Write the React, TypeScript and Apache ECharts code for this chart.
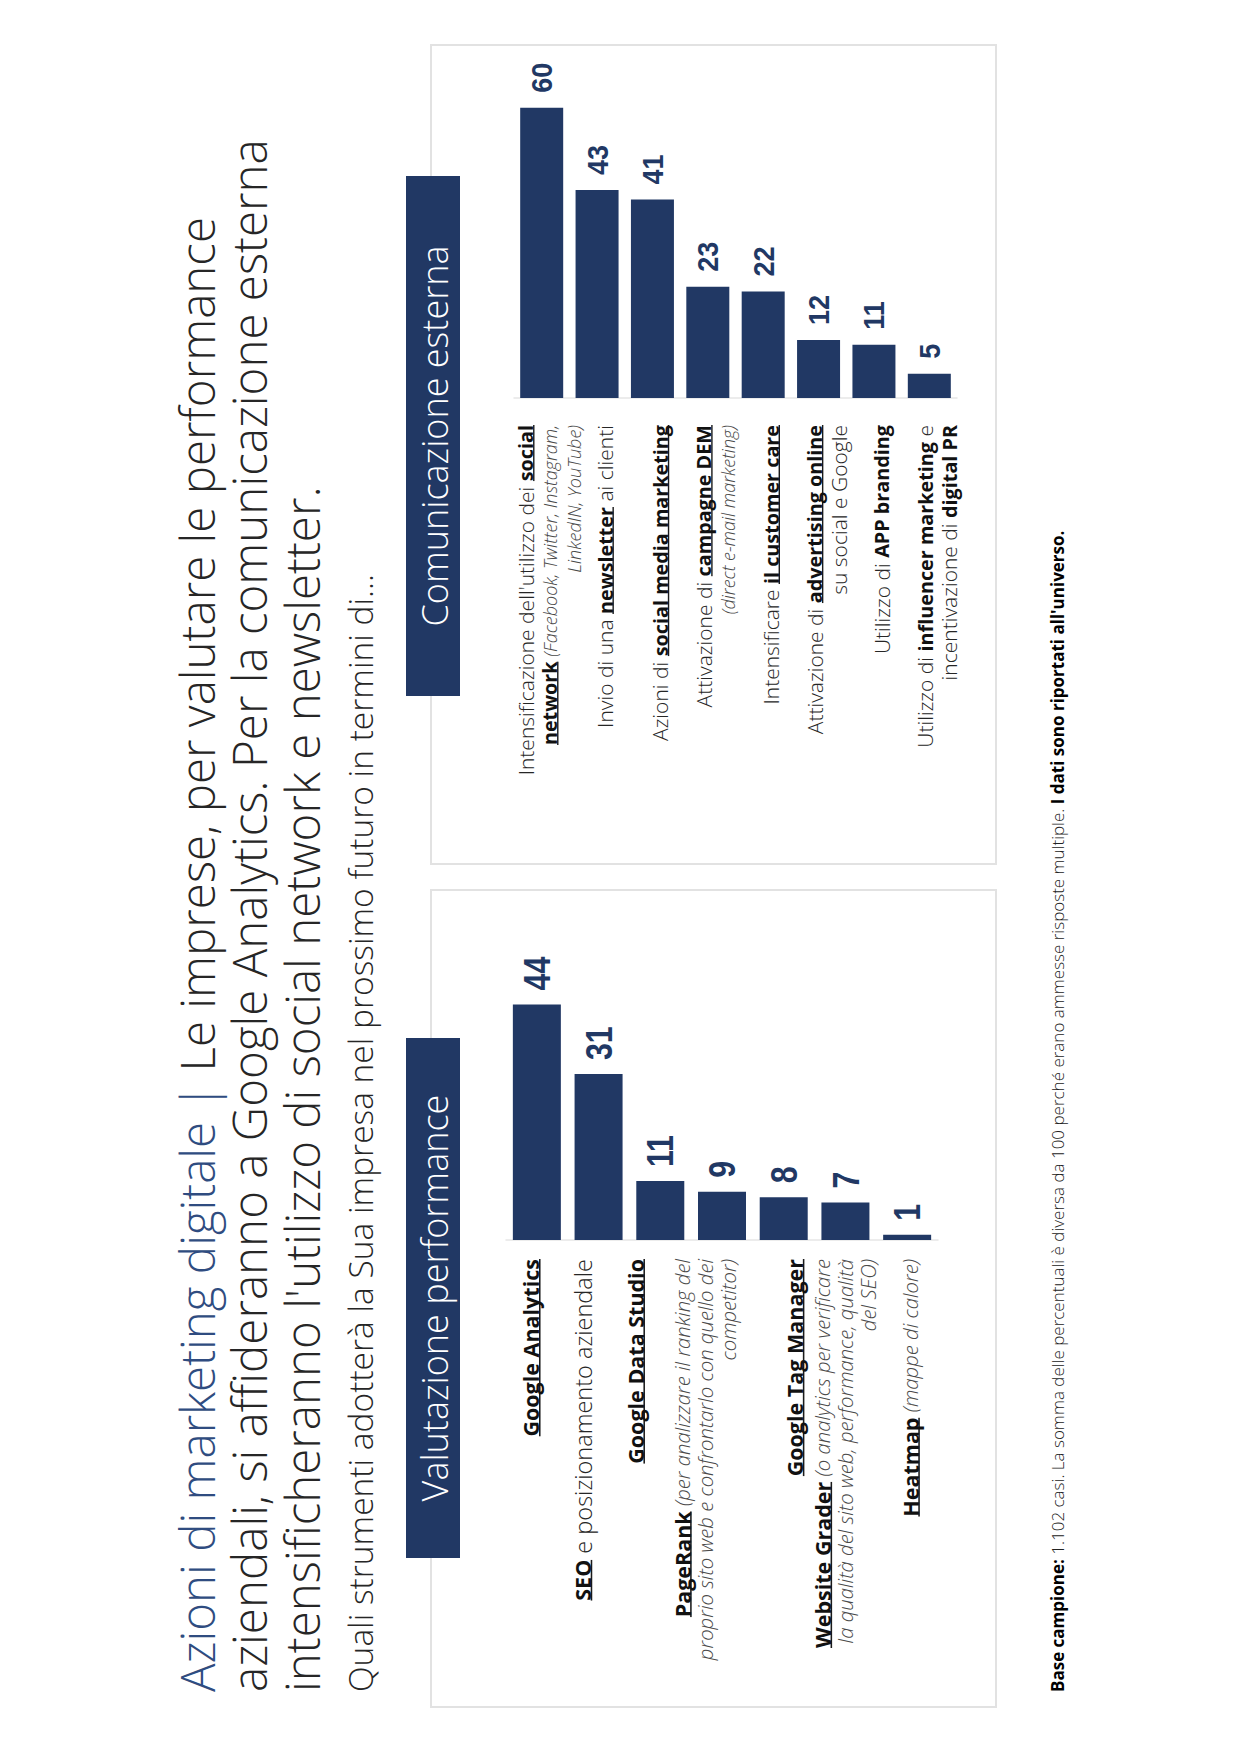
import React, { useEffect, useRef } from "react";
import * as echarts from "echarts";

// ---------- DATA ----------
const perfCategories = [
  "Google Analytics",
  "SEO e posizionamento aziendale",
  "Google Data Studio",
  "PageRank",
  "Google Tag Manager",
  "Website Grader",
  "Heatmap",
];
const perfValues = [44, 31, 11, 9, 8, 7, 1];
const perfLabels = [
  "{bu|Google Analytics}",
  "{bu|SEO}{r| e posizionamento aziendale}",
  "{bu|Google Data Studio}",
  "{bu|PageRank}{i| (per analizzare il ranking del}\n{i|proprio sito web e confrontarlo con quello dei}\n{i|competitor)}",
  "{bu|Google Tag Manager}",
  "{bu|Website Grader}{i| (o analytics per verificare}\n{i|la qualità del sito web, performance, qualità}\n{i|del SEO)}",
  "{bu|Heatmap}{i| (mappe di calore)}",
];

const commCategories = [
  "Social network",
  "Newsletter",
  "Social media marketing",
  "Campagne DEM",
  "Customer care",
  "Advertising online",
  "APP branding",
  "Influencer marketing e digital PR",
];
const commValues = [60, 43, 41, 23, 22, 12, 11, 5];
const commLabels = [
  "{r|Intensificazione dell'utilizzo dei }{bu|social}\n{bu|network}{i| (Facebook, Twitter, Instagram,}\n{i|LinkedIN, YouTube)}",
  "{r|Invio di una }{bu|newsletter}{r| ai clienti}",
  "{r|Azioni di }{bu|social media marketing}",
  "{r|Attivazione di }{bu|campagne DEM}\n{i|(direct e-mail marketing)}",
  "{r|Intensificare }{bu|il customer care}",
  "{r|Attivazione di }{bu|advertising online}\n{r|su social e Google}",
  "{r|Utilizzo di }{b|APP branding}",
  "{r|Utilizzo di }{b|influencer marketing}{r| e}\n{r|incentivazione di }{b|digital PR}",
];

const titleLines = [
  "{c|Azioni di marketing digitale | }{d|Le imprese, per valutare le performance}",
  "{d|aziendali, si affideranno a Google Analytics. Per la comunicazione esterna}",
  "{d|intensificheranno l'utilizzo di social network e newsletter.}",
];
const subtitle = "Quali strumenti adotterà la Sua impresa nel prossimo futuro in termini di…";
const panelTitles = ["Valutazione performance", "Comunicazione esterna"];
const footnote =
  "{b|Base campione: }{r|1.102 casi. La somma delle percentuali è diversa da 100 perché erano ammesse risposte multiple. }{b|I dati sono riportati all'universo.}";

// ---------- STYLE ----------
const NAVY = "#213864";
const TITLE_BLUE = "#2F4C80";
const DARK = "#262626";
const FONT = "'Open Sans', Lato, 'Noto Sans', sans-serif";
const NUM_FONT = "'Liberation Sans', Arial, sans-serif";
const UL =
  "data:image/svg+xml;charset=utf-8," +
  encodeURIComponent(
    '<svg xmlns="http://www.w3.org/2000/svg"><rect x="0" y="87%" width="100%" height="7%" fill="#1a1a1a"/></svg>'
  );
// vertical nudges of the category labels (px, + = down in the landscape layout)
const perfLabelShift = [-6, -16, -25, -17, 11, 0, 3];
const commLabelShift = [8, 8, 8, 8, 8, 8, 8, 8];

function shiftPad(d: number) {
  return d < 0 ? [0, 0, -2 * d, 0] : [2 * d, 0, 0, 0];
}

function rich(size: number, bsize: number, small: number, lh: number) {
  return {
    r: { fontFamily: FONT, fontWeight: 300, fontSize: size, color: DARK, lineHeight: lh, align: "right" },
    b: { fontFamily: FONT, fontWeight: "bold", fontSize: bsize, color: "#111", lineHeight: lh, align: "right" },
    bu: {
      fontFamily: FONT,
      fontWeight: "bold",
      fontSize: bsize,
      color: "#111",
      lineHeight: lh,
      align: "right",
      backgroundColor: { image: UL },
    },
    i: {
      fontFamily: FONT,
      fontWeight: 300,
      fontStyle: "italic",
      fontSize: small,
      color: "#4a4a4a",
      lineHeight: lh,
      align: "right",
    },
  };
}

function valueLabels(fontSize: number, scaleX: number, gap: number) {
  return (_params: any, api: any) => {
    const v = api.value(0);
    const p = api.coord([v, api.value(1)]);
    return {
      type: "text",
      x: p[0] + gap,
      y: p[1],
      scaleX,
      style: {
        text: String(v),
        fontFamily: NUM_FONT,
        fontWeight: "bold",
        fontSize,
        fill: NAVY,
        align: "left",
        verticalAlign: "middle",
      },
    };
  };
}

function buildOption() {
  const headerText = (x: number, t: string) => ({
    type: "text",
    z: 11,
    x,
    y: 434,
    style: {
      text: t,
      fontFamily: FONT,
      fontWeight: 300,
      fontSize: 36,
      fill: "#fff",
      align: "center",
      verticalAlign: "middle",
    },
  });
  const graphic: any[] = [
    {
      type: "rect",
      z: 0,
      shape: { x: 47, y: 431, width: 817, height: 565 },
      style: { fill: "transparent", stroke: "#e2e2e2", lineWidth: 2 },
    },
    {
      type: "rect",
      z: 0,
      shape: { x: 890, y: 431, width: 819, height: 565 },
      style: { fill: "transparent", stroke: "#e2e2e2", lineWidth: 2 },
    },
    { type: "rect", z: 10, shape: { x: 196, y: 406, width: 520, height: 54 }, style: { fill: NAVY } },
    headerText(456, panelTitles[0]),
    { type: "rect", z: 10, shape: { x: 1058, y: 406, width: 520, height: 54 }, style: { fill: NAVY } },
    headerText(1318, panelTitles[1]),
    {
      type: "text",
      x: 62,
      y: 360,
      style: {
        text: subtitle,
        fontFamily: FONT,
        fontWeight: 300,
        fontSize: 33.5,
        fill: DARK,
        align: "left",
        verticalAlign: "middle",
      },
    },
    {
      type: "text",
      x: 62,
      y: 1057,
      style: {
        text: footnote,
        align: "left",
        verticalAlign: "middle",
        rich: {
          b: { fontFamily: FONT, fontWeight: "bold", fontSize: 17, fill: "#000" },
          r: { fontFamily: FONT, fontWeight: 300, fontSize: 17, fill: "#222" },
        },
      },
    },
  ];
  const titleY = [196, 248, 301];
  titleLines.forEach((t, k) => {
    graphic.push({
      type: "text",
      x: 62,
      y: titleY[k],
      style: {
        text: t,
        align: "left",
        verticalAlign: "middle",
        rich: {
          c: { fontFamily: FONT, fontWeight: 300, fontSize: 47.5, fill: TITLE_BLUE },
          d: { fontFamily: FONT, fontWeight: 300, fontSize: 47.5, fill: DARK },
        },
      },
    });
  });

  return {
    animation: false,
    backgroundColor: "#ffffff",
    grid: [
      { left: 514, top: 506, width: 332, height: 432 },
      { left: 1356, top: 514, width: 300, height: 443 },
    ],
    xAxis: [
      { type: "value", gridIndex: 0, min: 0, max: 62, show: false },
      { type: "value", gridIndex: 1, min: 0, max: 62, show: false },
    ],
    yAxis: [
      {
        type: "category",
        gridIndex: 0,
        data: perfCategories.map((c, i) => ({ value: c, textStyle: { padding: shiftPad(perfLabelShift[i]) } })),
        inverse: true,
        z: 5,
        axisLine: { show: true, lineStyle: { color: "#e6e6e6", width: 1.5 } },
        axisTick: { show: false },
        axisLabel: {
          interval: 0,
          margin: 19,
          formatter: (_v: string, i: number) => perfLabels[i],
          rich: rich(23.5, 21.5, 20.3, 23),
        },
      },
      {
        type: "category",
        gridIndex: 1,
        data: commCategories.map((c, i) => ({ value: c, textStyle: { padding: shiftPad(commLabelShift[i]) } })),
        inverse: true,
        z: 5,
        axisLine: { show: true, lineStyle: { color: "#e6e6e6", width: 1.5 } },
        axisTick: { show: false },
        axisLabel: {
          interval: 0,
          margin: 27,
          formatter: (_v: string, i: number) => commLabels[i],
          rich: rich(21, 19.8, 18, 24),
        },
      },
    ],
    series: [
      {
        type: "bar",
        xAxisIndex: 0,
        yAxisIndex: 0,
        z: 5,
        data: perfValues,
        barWidth: 48,
        itemStyle: { color: NAVY },
      },
      {
        type: "bar",
        xAxisIndex: 1,
        yAxisIndex: 1,
        z: 5,
        data: commValues,
        barWidth: 43,
        itemStyle: { color: NAVY },
      },
      {
        type: "custom",
        coordinateSystem: "cartesian2d",
        xAxisIndex: 0,
        yAxisIndex: 0,
        clip: false,
        silent: true,
        z: 6,
        encode: { x: 0, y: 1 },
        data: perfValues.map((v, i) => [v, i]),
        renderItem: valueLabels(37, 0.82, 14),
      },
      {
        type: "custom",
        coordinateSystem: "cartesian2d",
        xAxisIndex: 1,
        yAxisIndex: 1,
        clip: false,
        silent: true,
        z: 6,
        encode: { x: 0, y: 1 },
        data: commValues.map((v, i) => [v, i]),
        renderItem: valueLabels(30, 0.9, 15),
      },
    ],
    graphic,
  };
}

export default function App() {
  const ref = useRef<HTMLDivElement>(null);
  useEffect(() => {
    if (!ref.current) return;
    const chart = echarts.init(ref.current, null, { renderer: "svg" });
    chart.setOption(buildOption() as any);
    return () => chart.dispose();
  }, []);
  return (
    <div
      style={{
        position: "absolute",
        left: 0,
        top: 0,
        width: 1240,
        height: 1754,
        overflow: "hidden",
        background: "#fff",
      }}
    >
      <div
        ref={ref}
        style={{
          position: "absolute",
          left: 0,
          top: 0,
          width: 1754,
          height: 1240,
          transformOrigin: "0 0",
          transform: "translateY(1754px) rotate(-90deg)",
        }}
      />
    </div>
  );
}
